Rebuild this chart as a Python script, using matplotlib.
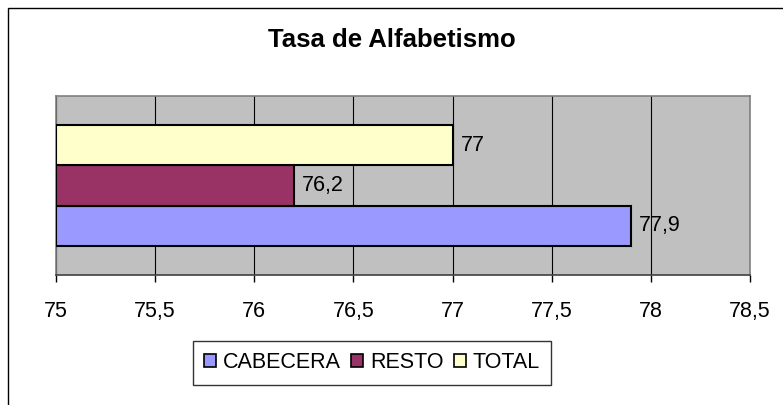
import matplotlib
matplotlib.use("Agg")
import matplotlib.pyplot as plt
from matplotlib.patches import Rectangle, Patch

title = "Tasa de Alfabetismo"
series = ["CABECERA", "RESTO", "TOTAL"]
values = [77.9, 76.2, 77.0]
value_labels = ["77,9", "76,2", "77"]
colors = ["#9999FF", "#993366", "#FFFFCC"]
xticks = [75, 75.5, 76, 76.5, 77, 77.5, 78, 78.5]
xtick_labels = ["75", "75,5", "76", "76,5", "77", "77,5", "78", "78,5"]
xmin, xmax = 75, 78.5

plt.rcParams['font.family'] = ['Liberation Sans', 'DejaVu Sans']

W, H = 783, 405
fig = plt.figure(figsize=(W / 100, H / 100), dpi=100)
ax = fig.add_axes([56 / W, (H - 275) / H, (750 - 56) / W, (275 - 96) / H])
ax.set_facecolor("#C0C0C0")

FS = 15.5
h = 0.2235
positions = [-h, 0.0, h]
for pos, v, c, lab in zip(positions, values, colors, value_labels):
    ax.barh(pos, v - xmin, left=xmin, height=h, color=c, edgecolor="black",
            linewidth=1.5, zorder=3)
    ax.annotate(lab, xy=(v, pos), xytext=(6, 0), textcoords="offset points",
                ha="left", va="center", fontsize=FS, zorder=4)

ax.set_xlim(xmin, xmax)
ax.set_ylim(-0.5, 0.5)
ax.set_xticks(xticks)
ax.set_xticklabels(xtick_labels, fontsize=FS)
ax.set_yticks([])
ax.tick_params(axis="x", direction="out", length=5, width=1, pad=13.5, colors="black")
ax.grid(axis="x", color="black", linewidth=0.8, zorder=1)
ax.set_axisbelow(True)
for side in ["top", "right", "left"]:
    ax.spines[side].set_color("#808080")
    ax.spines[side].set_linewidth(1.2)
ax.spines["bottom"].set_color("#404040")
ax.spines["bottom"].set_linewidth(1.2)

fig.text(0.5, 1 - 47 / H, title, ha="center", va="baseline", fontsize=18.5,
         fontweight="bold")

handles = [Patch(facecolor=c, edgecolor="black", linewidth=1.2) for c in colors]
leg = fig.legend(handles, series, loc="center", bbox_to_anchor=(372 / W, 1 - 363 / H),
                 ncol=3, fontsize=FS, frameon=True, fancybox=False,
                 edgecolor="black", handlelength=0.55, handleheight=0.55,
                 handletextpad=0.3, columnspacing=0.5, borderpad=0.55,
                 borderaxespad=0)
leg.get_frame().set_linewidth(1.0)

fig.add_artist(Rectangle((8 / W, -0.1), 1.1, 1 - 8 / H + 0.1,
                         transform=fig.transFigure, fill=False,
                         edgecolor="black", linewidth=1.0))

fig.savefig("out.png", dpi=100)
